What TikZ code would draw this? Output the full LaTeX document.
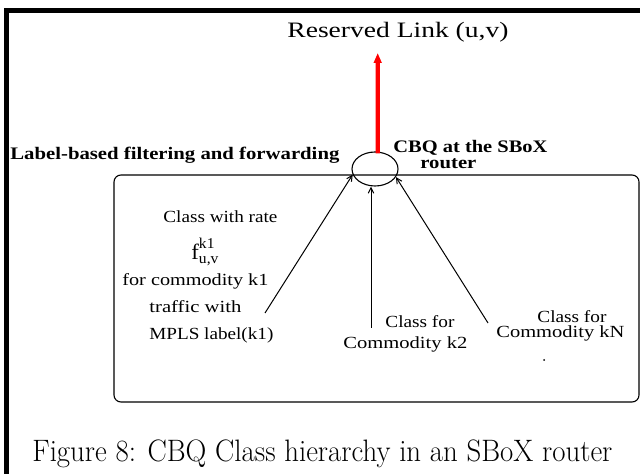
\documentclass[tikz,border=0pt]{standalone}
\usepackage{fontspec}
\newfontfamily\tms{Liberation Serif}
\usetikzlibrary{shapes.geometric,arrows.meta}
\newcommand\wt[3]{\resizebox{#1}{\height}{\fontsize{#2}{#2}\selectfont #3}}
\begin{document}
\begin{tikzpicture}[x=0.5pt,y=-0.5pt,
  lbl/.style={inner sep=0pt,anchor=base west},
  blk/.style={line width=0.5pt,-{Straight Barb[length=2.8pt,width=2.8pt]}},
  redarr/.style={line width=2.2pt,red,-{Triangle[length=5pt,width=3.8pt]}}]
\useasboundingbox (0,0) rectangle (640,474);
% frame
\fill (4,8) rectangle (640,13);
\fill (4,8) rectangle (9,474);
% box and router
\node[draw,rounded corners=3.5pt,line width=0.55pt,minimum width=262.5pt,minimum height=113.5pt,inner sep=0pt] (box) at (376.5,288.5) {};
\node[draw,ellipse,minimum width=23pt,minimum height=17pt,inner sep=0pt,line width=0.55pt] (ell) at (375,169) {};
% texts
\node[lbl] (title) at (287,38) {\wt{110.5pt}{11pt}{\tms Reserved Link (u,v)}};
\node[lbl] (lab) at (10,160) {\wt{164.5pt}{8.8pt}{\tms\bfseries Label-based filtering and forwarding}};
\node[lbl] (cbq) at (393,153) {\wt{77pt}{8.8pt}{\tms\bfseries CBQ at the SBoX}};
\node[lbl] (rtr) at (420,169) {\wt{28pt}{8.8pt}{\tms\bfseries router}};
\node[lbl] (c1) at (163,223) {\wt{57pt}{8.5pt}{\tms Class with rate}};
\node[lbl] (fk) at (191,260) {\wt{13.5pt}{11pt}{\tms f\raisebox{5.5pt}{\rlap{\fontsize{7.5}{7.5}\selectfont k1}}\raisebox{-1.8pt}{\fontsize{7.5}{7.5}\selectfont u,v}}};
\node[lbl] (c2) at (122,286) {\wt{73pt}{8.5pt}{\tms for commodity k1}};
\node[lbl] (c3) at (149,313) {\wt{46pt}{8.5pt}{\tms traffic with}};
\node[lbl] (c4) at (149,340) {\wt{62pt}{8.5pt}{\tms MPLS label(k1)}};
\node[lbl] (d1) at (385,328) {\wt{34.5pt}{8.5pt}{\tms Class for}};
\node[lbl] (d2) at (343,349) {\wt{62pt}{8.5pt}{\tms Commodity k2}};
\node[lbl] (e1) at (537,323) {\wt{34.5pt}{8.5pt}{\tms Class for}};
\node[lbl] (e2) at (496,338) {\wt{64pt}{8.5pt}{\tms Commodity kN}};
\fill (544,360) circle (0.5pt);
\node[lbl] (cap) at (32,461) {\wt{290pt}{15.5pt}{Figure 8: CBQ Class hierarchy in an SBoX router}};
% connectors
\coordinate (t1) at (265,313);
\coordinate (t2) at (371,328);
\coordinate (t3) at (488,323);
\coordinate (top) at (377.7,53);
\draw[blk] (t1) -- (ell.194);
\draw[blk] (t2) -- (t2 |- ell.south);
\draw[blk] (t3) -- (ell.339);
\draw[redarr] ([xshift=1.35pt,yshift=-1pt]ell.north) -- (top);
\end{tikzpicture}
\end{document}
